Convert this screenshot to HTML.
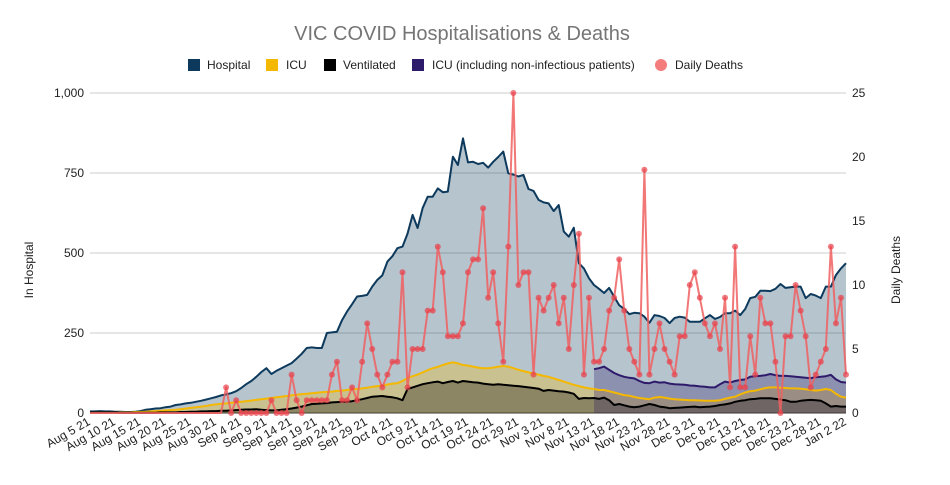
<!DOCTYPE html>
<html><head><meta charset="utf-8"><style>
body{margin:0;background:#fff;font-family:"Liberation Sans",Arial,sans-serif}
svg text{font-family:"Liberation Sans",Arial,sans-serif}
</style></head><body>
<svg id="chart" width="950" height="480" xmlns="http://www.w3.org/2000/svg">
<rect width="950" height="480" fill="#fff"/>
<text x="462" y="40" text-anchor="middle" font-size="20" fill="#757575">VIC COVID Hospitalisations &amp; Deaths</text>
<g id="legend" font-size="12" fill="#222">
<g><rect x="188" y="59" width="12" height="12" fill="#0d3a5c"/><text x="207" y="69">Hospital</text></g>
<g><rect x="266" y="59" width="12" height="12" fill="#f5b800"/><text x="286" y="69">ICU</text></g>
<g><rect x="324" y="59" width="12" height="12" fill="#000"/><text x="343" y="69">Ventilated</text></g>
<g><rect x="412" y="59" width="12" height="12" fill="#2e1a6b"/><text x="432" y="69">ICU (including non-infectious patients)</text></g>
<g><circle cx="661" cy="65" r="6" fill="#f47c7c"/><text x="675" y="69">Daily Deaths</text></g>
</g>
<text transform="translate(33,270) rotate(-90)" text-anchor="middle" font-size="12" fill="#222">In Hospital</text>
<text transform="translate(900,270) rotate(-90)" text-anchor="middle" font-size="12" fill="#222">Daily Deaths</text>
<g id="grid"></g><g id="areas"></g><g id="lines"></g><g id="axes"></g><g id="deaths"></g>
</svg>
<script>
const hospital=[5,5,6,5,5,4,4,3,3,4,6,10,12,14,15,18,20,25,27,30,32,35,38,42,46,50,55,58,62,68,78,90,100,113,128,140,122,132,140,148,156,170,185,203,205,203,203,250,252,254,290,317,340,364,366,369,395,416,430,473,490,515,520,560,619,578,640,676,676,702,690,692,801,775,858,783,785,778,782,767,785,800,817,749,745,739,744,700,694,666,658,655,631,650,567,551,579,468,452,421,400,388,375,391,363,337,325,309,313,312,301,282,306,303,297,281,297,301,298,285,285,285,296,306,294,300,312,312,320,306,325,359,363,382,382,381,388,403,391,393,395,395,359,372,367,359,395,395,431,452,468];
const icu=[2,2,2,2,2,2,2,2,2,3,3,4,5,6,7,8,9,10,12,14,16,18,20,22,25,27,29,30,32,33,35,37,39,41,43,45,47,49,51,53,55,57,59,60,62,63,65,66,67,69,70,72,74,75,77,79,82,84,86,89,92,93,100,109,115,120,127,134,140,144,150,155,158,155,150,148,145,142,140,140,142,145,147,145,140,135,131,127,123,120,116,113,108,103,98,93,88,84,80,77,75,72,72,68,64,60,56,54,50,47,45,43,48,50,48,45,43,42,41,40,40,39,38,38,38,40,44,48,51,58,64,68,70,74,78,80,80,79,78,77,77,76,74,72,70,72,75,72,60,51,48];
const ventilated=[2,2,2,2,2,2,1,1,1,1,1,1,1,1,2,2,2,2,3,3,4,4,5,5,6,6,7,7,8,9,10,11,11,12,10,9,8,8,10,12,14,17,20,24,28,29,30,31,33,34,35,35,37,40,43,47,51,52,53,51,49,46,40,75,80,85,90,93,96,98,93,97,100,95,100,98,96,95,92,90,88,90,88,87,85,84,82,80,78,76,69,72,70,68,67,64,60,44,47,46,47,44,48,40,25,28,24,20,18,20,24,28,25,20,18,15,16,17,18,19,20,18,19,20,22,25,27,30,35,38,40,43,44,46,46,46,44,42,40,35,35,38,40,41,40,38,30,20,22,20,20];
const icuAll=[137,140,145,135,125,118,113,110,108,100,94,93,98,95,96,92,90,89,88,86,85,83,82,80,80,90,98,95,100,103,105,113,115,116,118,122,118,116,116,115,113,112,110,109,112,113,115,119,105,97,95];
const icuAllStart=100;
const deaths=[0,0,0,0,0,0,0,0,0,0,0,0,0,0,0,0,0,0,0,0,0,0,0,0,0,0,0,2,0,1,0,0,0,0,0,0,1,0,0,0,3,1,0,1,1,1,1,1,3,4,1,1,2,1,4,7,5,3,2,3,4,4,11,2,5,5,5,8,8,13,11,6,6,6,7,11,12,12,16,9,11,7,4,13,25,10,11,11,3,9,8,9,10,7,9,5,10,14,3,9,4,4,5,8,9,12,8,5,4,3,19,3,5,7,5,4,3,6,6,10,11,9,7,6,7,5,9,2,13,2,2,6,3,9,7,7,4,0,6,6,10,8,6,2,3,4,5,13,7,9,3];
const leftTicks=[0,250,500,750,1000];
const leftTickLabels=["0","250","500","750","1,000"];
const rightTicks=[0,5,10,15,20,25];

const X0=90,X1=846,Y0=413,Y1=93;
const x=i=>X0+i*(X1-X0)/(hospital.length-1);
const yL=v=>Y0-v*(Y0-Y1)/1000;
const yR=v=>Y0-v*(Y0-Y1)/25;
const NS="http://www.w3.org/2000/svg";
function mk(tag,attrs,parent){const e=document.createElementNS(NS,tag);for(const k in attrs)e.setAttribute(k,attrs[k]);parent.appendChild(e);return e;}
const grid=document.getElementById('grid'),areas=document.getElementById('areas'),lines=document.getElementById('lines'),axes=document.getElementById('axes'),dg=document.getElementById('deaths');
leftTicks.forEach((t,k)=>{
  const l=mk('line',{x1:X0,x2:X1,y1:yL(t),y2:yL(t),stroke:t===0?'#333':'#ccc','stroke-width':1},grid);
  
  
  const tx=mk('text',{x:84,y:yL(t)+4,'text-anchor':'end','font-size':12,fill:'#222'},axes);tx.textContent=leftTickLabels[k];
  
  
});
rightTicks.forEach(t=>{
  const tx=mk('text',{x:852,y:yR(t)+4,'font-size':12,fill:'#222'},axes);tx.textContent=String(t);
  
  
});
function pts(arr,off,yf){return arr.map((v,i)=>x(i+off).toFixed(1)+','+yf(v).toFixed(1)).join(' ');}
function area(arr,off,fill,stroke,sw,name){
  const p=pts(arr,off,yL);
  const a=mk('polygon',{points:x(off)+','+Y0+' '+p+' '+x(off+arr.length-1)+','+Y0,fill:fill,'fill-opacity':0.3},areas);
  
  
  const l=mk('polyline',{points:p,fill:'none',stroke:stroke,'stroke-width':sw,'stroke-linejoin':'round'},lines);
  
  
}
area(hospital,0,'#0d3a5c','#0d3a5c',2,'hospital');
area(icu,0,'#f5b800','#f5b800',2,'icu');
area(ventilated,0,'#000','#000',2,'ventilated');
area(icuAll,icuAllStart,'#2e1a6b','#2e1a6b',2,'icu-non-infectious');
const dl=mk('polyline',{points:pts(deaths,0,yR),fill:'none',stroke:'#f06060','stroke-opacity':0.85,'stroke-width':2,'stroke-linejoin':'round'},dg);


const firstDeath=deaths.findIndex(v=>v>0);
deaths.forEach((v,i)=>{
  if(i<firstDeath) return;
  const c=mk('circle',{cx:x(i),cy:yR(v),r:3,fill:'#e8404a','fill-opacity':0.7},dg);
  
  
});
const months=['Jan','Feb','Mar','Apr','May','Jun','Jul','Aug','Sep','Oct','Nov','Dec'];
for(let i=0;i<hospital.length;i+=5){
  const d=new Date(2021,7,5+i);
  const lab=months[d.getMonth()]+' '+d.getDate()+' '+String(d.getFullYear()).slice(2);
  const t=mk('text',{transform:'translate('+(x(i)+1)+',424) rotate(-30)','text-anchor':'end','font-size':12,fill:'#222'},axes);
  t.textContent=lab;
  
  
}
</script>
</body></html>
